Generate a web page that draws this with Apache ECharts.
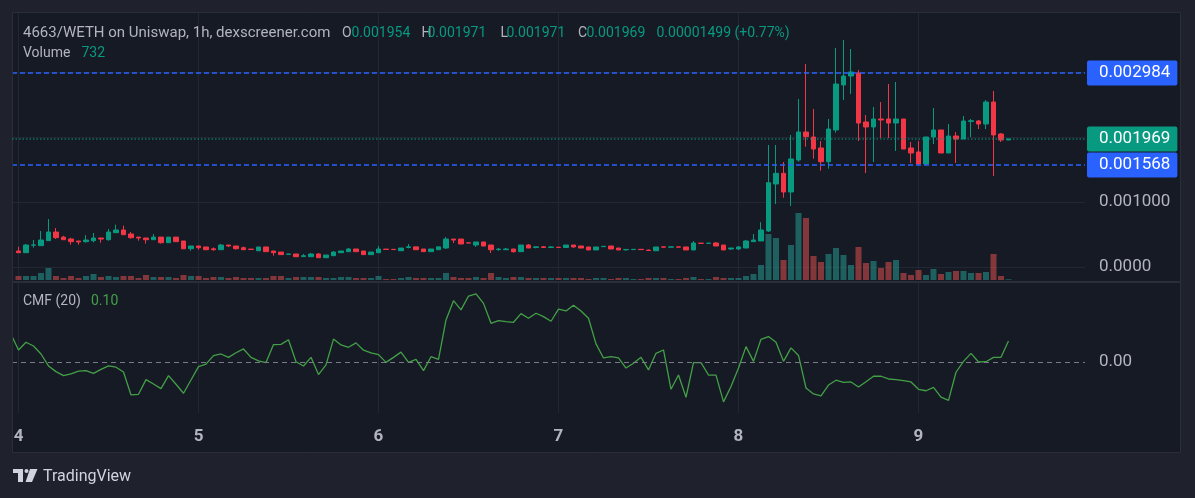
<!DOCTYPE html>
<html>
<head>
<meta charset="utf-8">
<title>4663/WETH on Uniswap, 1h</title>
<script src="https://cdn.jsdelivr.net/npm/echarts@6/dist/echarts.min.js"></script>
<style>
  html, body { margin: 0; padding: 0; background: #1f222d; }
  #chart { width: 1195px; height: 498px; }
</style>
</head>
<body>
<div id="chart"></div>
<script>
// hourly candles, index 0 = day 4 00:00
const opens = [
  0.000246,0.000220,0.000335,0.000328,0.000405,0.000538,0.000460,0.000431,0.000400,0.000390,
  0.000405,0.000446,0.000420,0.000528,0.000569,0.000508,0.000460,0.000446,0.000420,0.000460,
  0.000374,0.000460,0.000400,0.000282,0.000323,0.000308,0.000280,0.000266,0.000338,0.000323,
  0.000297,0.000275,0.000250,0.000308,0.000246,0.000230,0.000195,0.000200,0.000160,0.000158,
  0.000200,0.000143,0.000174,0.000220,0.000236,0.000277,0.000246,0.000190,0.000220,0.000275,
  0.000272,0.000250,0.000300,0.000310,0.000277,0.000236,0.000266,0.000292,0.000430,0.000430,
  0.000372,0.000338,0.000385,0.000338,0.000268,0.000266,0.000277,0.000236,0.000338,0.000300,
  0.000310,0.000300,0.000305,0.000300,0.000338,0.000323,0.000308,0.000262,0.000313,0.000323,
  0.000292,0.000265,0.000268,0.000272,0.000260,0.000250,0.000310,0.000305,0.000310,0.000308,
  0.000262,0.000367,0.000364,0.000369,0.000338,0.000277,0.000277,0.000292,0.000390,0.000400,
  0.000554,0.001277,0.001441,0.001154,0.001646,0.002077,0.002000,0.001831,0.001620,0.002108,
  0.002800,0.002938,0.002985,0.002231,0.002154,0.002277,0.002277,0.002215,0.002277,0.001831,
  0.001769,0.001585,0.002000,0.002108,0.001754,0.002015,0.001969,0.002240,0.002246,0.002200,
  0.002538,0.002046,0.001954
];
const highs = [
  0.000312,0.000354,0.000415,0.000554,0.000738,0.000600,0.000480,0.000450,0.000400,0.000490,
  0.000523,0.000446,0.000585,0.000651,0.000636,0.000538,0.000460,0.000446,0.000508,0.000460,
  0.000460,0.000460,0.000400,0.000323,0.000323,0.000308,0.000300,0.000354,0.000338,0.000323,
  0.000313,0.000275,0.000308,0.000308,0.000246,0.000230,0.000200,0.000200,0.000200,0.000215,
  0.000215,0.000184,0.000246,0.000246,0.000292,0.000277,0.000246,0.000230,0.000323,0.000275,
  0.000272,0.000292,0.000354,0.000310,0.000277,0.000277,0.000310,0.000462,0.000430,0.000430,
  0.000372,0.000385,0.000385,0.000338,0.000292,0.000292,0.000277,0.000338,0.000354,0.000310,
  0.000323,0.000323,0.000305,0.000338,0.000338,0.000323,0.000308,0.000308,0.000318,0.000323,
  0.000292,0.000270,0.000272,0.000272,0.000270,0.000308,0.000310,0.000310,0.000310,0.000308,
  0.000400,0.000367,0.000367,0.000385,0.000338,0.000292,0.000323,0.000415,0.000508,0.000690,
  0.001877,0.001877,0.001615,0.002031,0.002585,0.003123,0.002431,0.001938,0.002277,0.003369,
  0.003492,0.003354,0.003031,0.002338,0.002462,0.002538,0.002815,0.002846,0.002277,0.001923,
  0.001938,0.002000,0.002446,0.002108,0.002200,0.002077,0.002323,0.002277,0.002262,0.002569,
  0.002708,0.002062,0.001971
];
const lows = [
  0.000220,0.000220,0.000297,0.000328,0.000405,0.000431,0.000420,0.000343,0.000343,0.000374,
  0.000380,0.000374,0.000405,0.000528,0.000497,0.000436,0.000405,0.000360,0.000420,0.000360,
  0.000374,0.000390,0.000280,0.000250,0.000267,0.000266,0.000250,0.000266,0.000308,0.000267,
  0.000266,0.000270,0.000250,0.000236,0.000174,0.000190,0.000195,0.000158,0.000160,0.000158,
  0.000143,0.000143,0.000174,0.000220,0.000236,0.000236,0.000190,0.000190,0.000220,0.000270,
  0.000268,0.000250,0.000287,0.000266,0.000236,0.000236,0.000266,0.000277,0.000369,0.000354,
  0.000369,0.000308,0.000323,0.000215,0.000250,0.000266,0.000220,0.000236,0.000292,0.000287,
  0.000300,0.000300,0.000300,0.000300,0.000297,0.000292,0.000262,0.000262,0.000313,0.000277,
  0.000262,0.000250,0.000268,0.000268,0.000246,0.000250,0.000305,0.000305,0.000305,0.000262,
  0.000262,0.000364,0.000364,0.000323,0.000262,0.000262,0.000262,0.000292,0.000385,0.000400,
  0.000538,0.000969,0.001066,0.000938,0.001620,0.001851,0.001666,0.001482,0.001513,0.002066,
  0.002569,0.002662,0.001938,0.001446,0.001615,0.001985,0.001985,0.001785,0.001815,0.001600,
  0.001569,0.001569,0.001892,0.001754,0.001754,0.001600,0.001969,0.002000,0.002123,0.002123,
  0.001400,0.001923,0.001954
];
const closes = [
  0.000220,0.000338,0.000340,0.000415,0.000538,0.000451,0.000420,0.000390,0.000385,0.000415,
  0.000446,0.000430,0.000538,0.000569,0.000497,0.000451,0.000446,0.000420,0.000460,0.000374,
  0.000460,0.000390,0.000280,0.000323,0.000297,0.000266,0.000266,0.000338,0.000323,0.000282,
  0.000266,0.000270,0.000308,0.000236,0.000220,0.000190,0.000200,0.000158,0.000174,0.000200,
  0.000143,0.000184,0.000230,0.000246,0.000277,0.000236,0.000190,0.000230,0.000277,0.000270,
  0.000268,0.000292,0.000310,0.000266,0.000236,0.000277,0.000310,0.000430,0.000415,0.000354,
  0.000369,0.000385,0.000323,0.000266,0.000275,0.000277,0.000236,0.000338,0.000292,0.000310,
  0.000300,0.000308,0.000300,0.000338,0.000308,0.000292,0.000262,0.000308,0.000318,0.000277,
  0.000262,0.000270,0.000272,0.000268,0.000254,0.000308,0.000305,0.000310,0.000305,0.000262,
  0.000369,0.000364,0.000367,0.000323,0.000262,0.000292,0.000308,0.000400,0.000415,0.000569,
  0.001297,0.001441,0.001154,0.001662,0.002077,0.002005,0.001815,0.001620,0.002123,0.002815,
  0.002938,0.003000,0.002215,0.002154,0.002277,0.002262,0.002215,0.002277,0.001815,0.001754,
  0.001585,0.002000,0.002108,0.001754,0.002015,0.001969,0.002246,0.002250,0.002200,0.002538,
  0.002031,0.001954,0.001969
];
// volume in thousands
const volumeK = [
  4,4,4,7,12,4,2,4,2,4,
  6,3,4,3,4,4,2,5,3,3,
  3,2,5,4,4,2,3,3,2,3,
  2,2,2,2,4,4,2,3,3,3,
  3,2,2,3,3,2,2,2,4,1,
  1,2,3,2,2,2,2,7,3,2,
  2,3,2,7,3,2,3,3,2,2,
  2,2,2,2,2,2,1,2,2,1,
  2,2,1,1,2,2,2,1,1,2,
  3,1,1,3,2,2,2,4,6,15,
  46,42,20,35,67,62,24,18,26,32,
  25,15,33,17,19,12,18,20,7,5,
  10,5,11,6,8,9,9,7,7,8,
  26,4,0.732
];
// CMF(20), first value belongs to hour -1
const cmfStart = -1;
const cmf = [
  0.132,
  0.057,0.094,0.076,0.038,-0.019,-0.046,-0.065,-0.057,-0.044,-0.041,
  -0.054,-0.035,-0.019,-0.025,-0.048,-0.157,-0.154,-0.084,-0.105,-0.127,
  -0.065,-0.106,-0.149,-0.086,-0.022,-0.010,0.030,0.038,0.022,0.044,
  0.062,0.022,0.005,-0.003,0.083,0.084,0.106,0.001,-0.019,0.022,
  -0.060,-0.014,0.109,0.081,0.070,0.091,0.056,0.043,0.035,-0.002,
  0.022,0.047,-0.002,0.012,-0.041,0.025,0.012,0.200,0.292,0.248,
  0.314,0.324,0.279,0.184,0.197,0.192,0.189,0.230,0.208,0.232,
  0.216,0.194,0.252,0.243,0.270,0.243,0.208,0.086,0.019,0.025,
  0.019,-0.029,-0.006,0.022,-0.038,0.041,0.057,-0.130,-0.062,-0.168,
  -0.003,-0.003,-0.062,-0.063,-0.190,-0.117,-0.029,0.073,0.003,0.108,
  0.121,0.094,0.003,0.067,0.031,-0.124,-0.152,-0.162,-0.110,-0.087,
  -0.097,-0.095,-0.119,-0.094,-0.068,-0.068,-0.081,-0.084,-0.089,-0.095,
  -0.130,-0.137,-0.121,-0.167,-0.183,-0.049,0.003,0.041,0.000,0.001,
  0.022,0.022,0.100
];
const dayTicks = [0, 24, 48, 72, 96, 120];
const dayLabels = ['4', '5', '6', '7', '8', '9'];
const priceGridValues = [0, 0.001, 0.002, 0.003];
const priceLabelValues = [0, 0.001];
// horizontal price lines: two blue levels and the last price
const priceLines = [0.002984, 0.001568, 0.001969];

const UP = '#089981';
const DOWN = '#f23645';
const BLUE = '#2962ff';
const VOL_UP = 'rgba(38,166,154,0.5)';
const VOL_DOWN = 'rgba(239,83,80,0.5)';
const GRID = '#232733';
const TXT = '#b2b5be';
const FONT = 'Roboto, "Noto Sans", sans-serif';
const X_MIN = -0.867, X_MAX = 142.2;
const lineColors = [BLUE, BLUE, UP];
const lineDashes = [[5, 3], [5, 3], [1.5, 2]];
const lineWidths = [1.5, 1.5, 1];

const candleData = opens.map((o, i) => [i, o, closes[i], lows[i], highs[i]]);
const volumeData = volumeK.map((v, i) => ({
  value: [i, v],
  itemStyle: { color: closes[i] >= opens[i] ? VOL_UP : VOL_DOWN }
}));
const cmfData = cmf.map((v, k) => [k + cmfStart, v]);

const chart = echarts.init(document.getElementById('chart'));

function txt(x, y, text, fill, size, weight) {
  return {
    type: 'text', x: x, y: y, z: 10,
    style: { text: text, fill: fill, font: (weight || 'normal') + ' ' + size + 'px ' + FONT, verticalAlign: 'middle' }
  };
}

const levelSeries = priceLines.map((p, k) => ({
  type: 'line', name: 'level ' + p, xAxisIndex: 0, yAxisIndex: 0,
  data: [[X_MIN, p], [X_MAX, p]], symbol: 'none', z: 4 + k, silent: true,
  lineStyle: { color: lineColors[k], type: lineDashes[k], width: lineWidths[k] },
  endLabel: {
    show: true, distance: 2, formatter: p.toFixed(6),
    backgroundColor: lineColors[k], color: '#ffffff', padding: [4, 7, 4, 12],
    fontSize: 17, lineHeight: 17, fontFamily: FONT, borderRadius: 2
  }
}));

const outer = '#1f222d';
chart.setOption({
  animation: false,
  backgroundColor: '#161a25',
  grid: [
    { left: 12, top: 12, width: 1073, height: 268 },
    { left: 12, top: 283, width: 1073, height: 130 }
  ],
  xAxis: [
    {
      type: 'value', gridIndex: 0, min: X_MIN, max: X_MAX,
      axisLine: { show: false },
      axisTick: { show: false, customValues: dayTicks },
      axisLabel: { show: false },
      splitLine: { show: true, lineStyle: { color: GRID } }
    },
    {
      type: 'value', gridIndex: 1, min: X_MIN, max: X_MAX,
      axisLine: { show: false },
      axisTick: { show: true, length: 4, customValues: dayTicks, lineStyle: { color: '#2a2e39' } },
      axisLabel: {
        customValues: dayTicks, margin: 15, color: TXT, fontSize: 17, fontWeight: 'bold', fontFamily: FONT,
        formatter: v => dayLabels[dayTicks.indexOf(v)]
      },
      splitLine: { show: true, lineStyle: { color: GRID } }
    }
  ],
  yAxis: [
    {
      type: 'value', gridIndex: 0, position: 'right', min: -0.0002, max: 0.003923,
      axisLine: { show: false },
      axisTick: { show: false, customValues: priceGridValues },
      axisLabel: {
        customValues: priceLabelValues, margin: 14, color: TXT, fontSize: 17, fontFamily: FONT,
        padding: [8, 0, 0, 0],
        formatter: v => (v === 0 ? '0.0000' : v.toFixed(6))
      },
      splitLine: { show: true, lineStyle: { color: GRID } }
    },
    { type: 'value', gridIndex: 0, min: 0, max: 268, show: false, splitLine: { show: false } },
    {
      type: 'value', gridIndex: 1, position: 'right', min: -0.243, max: 0.376,
      axisLine: { show: false },
      axisTick: { show: false, customValues: [0] },
      axisLabel: {
        customValues: [0], margin: 14, color: TXT, fontSize: 17, fontFamily: FONT,
        padding: [8, 0, 0, 0], formatter: () => '0.00'
      },
      splitLine: { show: false }
    }
  ],
  series: [
    {
      type: 'bar', name: 'Volume', xAxisIndex: 0, yAxisIndex: 1,
      data: volumeData, barWidth: 6, z: 1
    },
    {
      type: 'candlestick', name: '4663/WETH', xAxisIndex: 0, yAxisIndex: 0,
      data: candleData, encode: { x: 0, y: [1, 2, 3, 4] },
      barWidth: 5, z: 3,
      itemStyle: { color: UP, color0: DOWN, borderColor: UP, borderColor0: DOWN, borderWidth: 1 }
    },
    ...levelSeries,
    {
      type: 'line', name: 'CMF (20)', xAxisIndex: 1, yAxisIndex: 2,
      data: cmfData, symbol: 'none', z: 3,
      lineStyle: { color: '#43a047', width: 1.3 },
      markLine: {
        symbol: ['none', 'none'], silent: true, label: { show: false },
        lineStyle: { color: '#787b86', type: [5, 4], width: 1 },
        data: [{ yAxis: 0 }]
      }
    }
  ],
  graphic: [
    { type: 'rect', shape: { x: 0, y: 0, width: 1195, height: 12 }, style: { fill: outer }, z: 5 },
    { type: 'rect', shape: { x: 0, y: 0, width: 12, height: 498 }, style: { fill: outer }, z: 5 },
    { type: 'rect', shape: { x: 1181, y: 0, width: 14, height: 498 }, style: { fill: outer }, z: 5 },
    { type: 'rect', shape: { x: 0, y: 453, width: 1195, height: 45 }, style: { fill: outer }, z: 5 },
    { type: 'rect', shape: { x: 12.5, y: 12.5, width: 1168, height: 440 }, style: { fill: 'none', stroke: '#2a2e39', lineWidth: 1 }, z: 6 },
    { type: 'rect', shape: { x: 12, y: 281, width: 1169, height: 2 }, style: { fill: '#2a2e39' }, z: 6 },
    txt(23, 33, '4663/WETH on Uniswap, 1h, dexscreener.com', TXT, 15),
    txt(342, 33, 'O', TXT, 14), txt(351.5, 33, '0.001954', UP, 14),
    txt(421.5, 33, 'H', TXT, 14), txt(427.5, 33, '0.001971', UP, 14),
    txt(500.5, 33, 'L', TXT, 14), txt(506.5, 33, '0.001971', UP, 14),
    txt(578, 33, 'C', TXT, 14), txt(586.5, 33, '0.001969', UP, 14),
    txt(656.5, 33, '0.00001499 (+0.77%)', UP, 14),
    txt(23, 53, 'Volume', TXT, 14), txt(81.5, 53, '732', UP, 14),
    txt(23, 301, 'CMF (20)', TXT, 14), txt(91, 301, '0.10', '#43a047', 14),
    { type: 'rect', shape: { x: 13, y: 469, width: 10, height: 4 }, style: { fill: '#d1d4dc' }, z: 10 },
    { type: 'rect', shape: { x: 18, y: 469, width: 5, height: 13 }, style: { fill: '#d1d4dc' }, z: 10 },
    { type: 'circle', shape: { cx: 26.5, cy: 471, r: 2 }, style: { fill: '#d1d4dc' }, z: 10 },
    { type: 'polygon', shape: { points: [[30, 469], [37.5, 469], [32, 482], [25.5, 482]] }, style: { fill: '#d1d4dc' }, z: 10 },
    txt(43, 477, 'TradingView', '#d1d4dc', 16)
  ]
});
</script>
</body>
</html>
